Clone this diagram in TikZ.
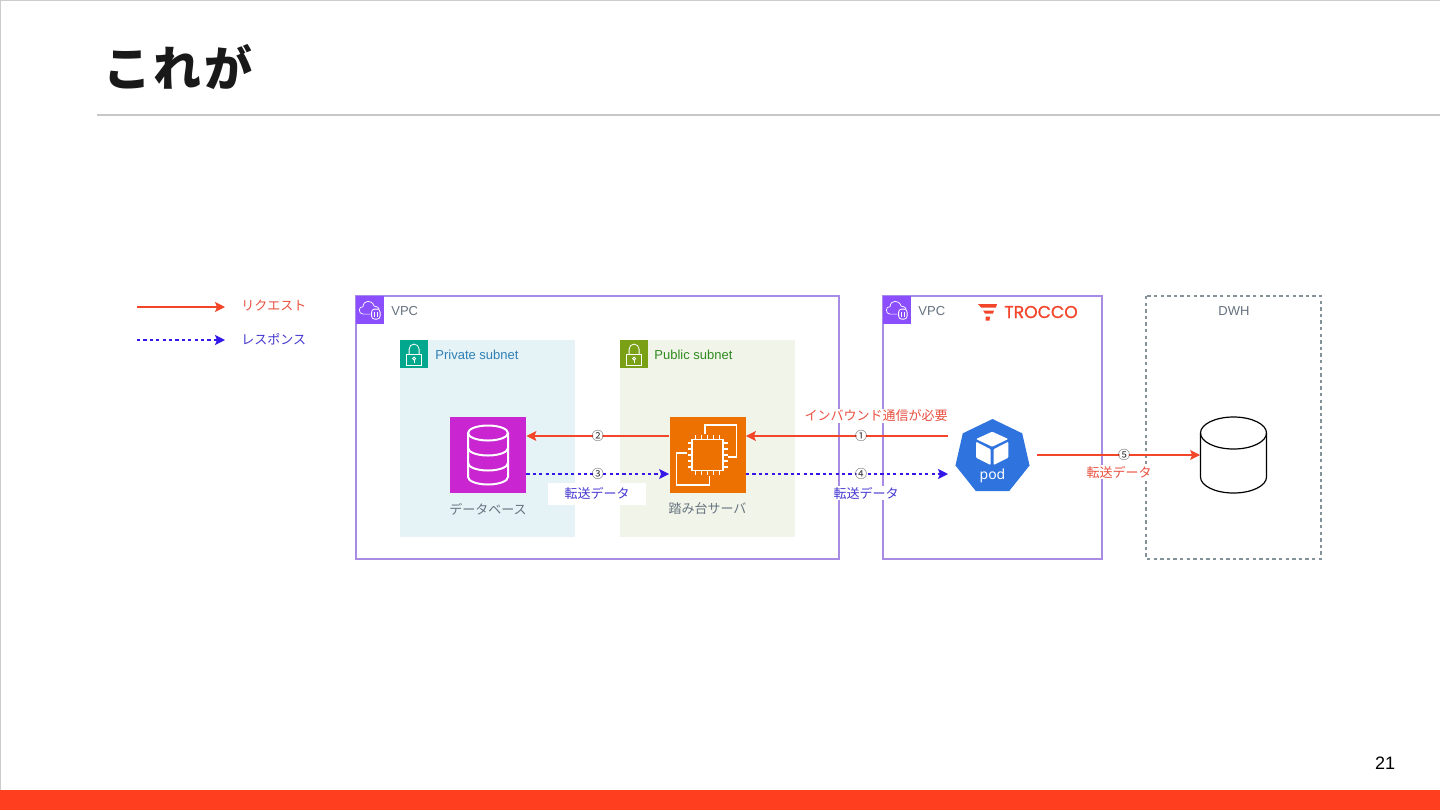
\documentclass[tikz,border=0pt]{standalone}
\usepackage{fontspec}
\setmainfont{Liberation Sans}
\newfontfamily\cjk{Noto Sans CJK JP}
\newfontfamily\titlefont[LetterSpace=5.5]{Noto Sans CJK JP}
\newfontfamily\podfont{Noto Sans}
\newfontfamily\trfont[FakeBold=1.2]{Poppins}
\usetikzlibrary{arrows.meta,shapes.geometric}

\definecolor{vpcline}{HTML}{A88BE3}
\definecolor{vpcfill}{HTML}{8C4FFF}
\definecolor{privfill}{HTML}{E5F3F6}
\definecolor{pubfill}{HTML}{F1F5E9}
\definecolor{privicon}{HTML}{01A88D}
\definecolor{pubicon}{HTML}{7AA116}
\definecolor{privtext}{HTML}{2F7FB5}
\definecolor{pubtext}{HTML}{2F8A1E}
\definecolor{dbfill}{HTML}{C925D1}
\definecolor{ecfill}{HTML}{ED7100}
\definecolor{podfill}{HTML}{2F74DE}
\definecolor{reqred}{HTML}{F2452A}
\definecolor{reqtext}{HTML}{E8503F}
\definecolor{resblue}{HTML}{3418E8}
\definecolor{restext}{HTML}{4337D0}
\definecolor{graytext}{HTML}{667280}
\definecolor{dwhline}{HTML}{84929A}
\definecolor{barred}{HTML}{FF3D1F}

\tikzset{
  jptext/.style={font=\cjk\fontsize{6.5}{8}\selectfont,inner sep=0.5pt},
  entext/.style={font=\fontsize{6.5}{8}\selectfont,inner sep=0pt},
  reqline/.style={draw=reqred,line width=0.55pt,-{Stealth[length=5pt,width=5pt,inset=1pt]}},
  resline/.style={draw=resblue,line width=0.55pt,dash pattern=on 1.6pt off 1.6pt,-{Stealth[length=5pt,width=5pt,inset=1pt]}},
  numtag/.style={circle,fill=white,inner sep=-1.2pt,text=black!80,font=\cjk\fontsize{6}{7}\selectfont},
  iconbox/.style={draw=none,minimum size=38pt,inner sep=0pt},
  tagbox/.style={draw=none,minimum size=13.7pt,inner sep=0pt},
  vpcframe/.style={draw=vpcline,line width=1pt},
  lockpic/.pic={
    \draw[white,line width=0.4pt] (-7.5,0) rectangle (7.5,11);
    \draw[white,line width=0.4pt] (-5,0) -- (-5,-5) arc (180:360:5) -- (5,0);
    \draw[white,line width=0.4pt] (0,4.5) circle (1.5);
    \draw[white,line width=0.4pt] (0,6) -- (0,8.5);
  },
  vpcpic/.pic={
    \draw[white,line width=0.35pt,line cap=round] (0,4) -- (-7,4) .. controls (-12,4) and (-12,-4) .. (-7,-3.5) .. controls (-7,-10) and (2,-11) .. (4,-4) .. controls (6,-4) and (8,-3) .. (9,-1.5);
    \draw[white,line width=0.4pt,rounded corners=1.5pt] (1.5,-1) rectangle (10,9);
    \draw[white,line width=0.35pt] (4.5,2) -- (4.5,7) (7,2) -- (7,7);
  }
}

\begin{document}
\begin{tikzpicture}[x=0.5pt,y=-0.5pt]
\useasboundingbox (0,0) rectangle (1440,810);

% slide frame
\fill[white] (0,0) rectangle (1440,810);
\draw[black!20,line width=0.8pt] (0.5,810) -- (0.5,0.5) -- (1440,0.5);
\fill[barred] (0,790) rectangle (1440,810);
\draw[black!22,line width=0.8pt] (97,115) -- (1440,115);
\node[anchor=west,inner sep=0pt,text=black!90,font=\titlefont\bfseries\fontsize{24}{29}\selectfont] (title) at (103,67) {これが};
\node[inner sep=0pt,font=\fontsize{9}{11}\selectfont] (pageno) at (1385,763) {21};

% legend
\coordinate (legreqa) at (137,307);
\coordinate (legreqb) at (225,307);
\coordinate (legresa) at (137,340);
\coordinate (legresb) at (225,340);
\draw[reqline] (legreqa) -- (legreqb);
\draw[resline] (legresa) -- (legresb);
\node[jptext,anchor=west,text=reqtext] (legreq) at (240,306) {リクエスト};
\node[jptext,anchor=west,text=restext] (legres) at (240,339) {レスポンス};

% groups
\draw[vpcframe] (356,296) rectangle (839,559);
\draw[vpcframe] (883,296) rectangle (1102,559);
\draw[draw=dwhline,line width=0.55pt,dash pattern=on 1.7pt off 1.6pt] (1146,296) rectangle (1321,559);
\fill[privfill] (400,340) rectangle (575,537);
\fill[pubfill] (620,340) rectangle (795,537);

% group tags
\node[tagbox,fill=vpcfill,anchor=north west] (vpcatag) at (356,296) {};
\node[tagbox,fill=vpcfill,anchor=north west] (vpcbtag) at (883,296) {};
\node[tagbox,fill=privicon,anchor=north west] (privtag) at (400,340) {};
\node[tagbox,fill=pubicon,anchor=north west] (pubtag) at (620,340) {};
\pic at (vpcatag.center) {vpcpic};
\pic at (vpcbtag.center) {vpcpic};
\pic at (privtag.center) {lockpic};
\pic at (pubtag.center) {lockpic};
\node[entext,anchor=west,text=graytext] (vpcalabel) at (391,311) {VPC};
\node[entext,anchor=west,text=graytext] (vpcblabel) at (918,311) {VPC};
\node[entext,anchor=west,text=privtext] (privlabel) at (435,355) {Private subnet};
\node[entext,anchor=west,text=pubtext] (publabel) at (654,355) {Public subnet};
\node[entext,text=graytext] (dwhlabel) at (1234,311) {DWH};

% trocco logo
\fill[reqred] (978,304) -- (997,304) -- (996,307.5) -- (981,307.5) -- cycle;
\fill[reqred] (983,310.5) -- (994,310.5) -- (993,313.5) -- (985,313.5) -- cycle;
\fill[reqred] (985.5,316.5) -- (990,316.5) -- (989.5,320.5) -- (985.5,320.5) -- cycle;
\node[inner sep=0pt,anchor=west,text=reqred,font=\trfont\fontsize{8.6}{10}\selectfont] (trocco) at (1004,312) {TROCCO};

% database
\node[iconbox,fill=dbfill] (db) at (488,455) {};
\node[jptext,text=graytext] (dblabel) at (488,509) {データベース};
\begin{scope}[shift={(db.center)},white,line width=1pt]
\draw (0,-22) ellipse (20 and 7.5);
\draw (-20,-22) -- (-20,22) arc (180:0:20 and 7.5) -- (20,-22);
\draw (-20,-7) arc (180:0:20 and 7.5);
\draw (-20,8) arc (180:0:20 and 7.5);
\end{scope}

% bastion server
\node[iconbox,fill=ecfill] (bastion) at (707.5,455) {};
\node[jptext,text=graytext] (bastionlabel) at (707.5,509) {踏み台サーバ};
\begin{scope}[shift={(bastion.center)},white,line width=0.9pt]
\draw (-15.5,-15.5) rectangle (15.5,15.5);
\draw (-2.5,-21) -- (-2.5,-30) -- (29,-30) -- (29,2) -- (20,2);
\draw (-21,-2) -- (-31,-2) -- (-31,30) -- (2,30) -- (2,21);
\foreach \p in {-12,-6,0,6,12} {
  \draw (\p,-15.5) -- (\p,-20);
  \draw (\p,15.5) -- (\p,20);
  \draw (-15.5,\p) -- (-20,\p);
  \draw (15.5,\p) -- (20,\p);
}
\end{scope}

% pod
\node[regular polygon,regular polygon sides=7,minimum size=38pt,inner sep=0pt,fill=podfill] (pod) at (992.5,457) {};
\fill[white,rounded corners=0.5pt] (992.2,431.7) -- (1008.3,439) -- (992.2,446.7) -- (976,439) -- cycle;
\fill[white,rounded corners=0.5pt] (976,441.7) -- (990.7,449.3) -- (990.7,465) -- (976,457.7) -- cycle;
\fill[white,rounded corners=0.5pt] (1008.3,441.7) -- (993.5,449.3) -- (993.5,465) -- (1008.3,457.7) -- cycle;
\node[inner sep=0pt,text=white,font=\podfont\fontsize{7}{8}\selectfont] (podlabel) at (992.5,476) {pod};

% warehouse
\node[minimum width=33pt,minimum height=38pt,inner sep=0pt] (dwhdb) at (1233.5,455) {};
\begin{scope}[shift={(dwhdb.center)},line width=0.6pt]
\draw (0,-22) ellipse (33 and 16);
\draw (-33,-22) -- (-33,22) arc (180:0:33 and 16) -- (33,-22);
\end{scope}

% connectors
\coordinate (podreq) at (948,436);
\coordinate (podres) at (948,474);
\coordinate (podout) at (1037,455);
\draw[reqline] (podreq) -- (bastion.east |- podreq) node[numtag,pos=0.43] (numa) {①};
\draw[reqline] (bastion.west |- podreq) -- (db.east |- podreq) node[numtag,midway] (numb) {②};
\draw[resline] (db.east |- podres) -- (bastion.west |- podres) node[numtag,midway] (numc) {③};
\draw[resline] (bastion.east |- podres) -- (podres) node[numtag,pos=0.57] (numd) {④};
\draw[reqline] (podout) -- (dwhdb.west |- podout) node[numtag,pos=0.534] (nume) {⑤};

% connector labels
\node[fill=white,minimum width=49pt,minimum height=11pt,inner sep=0pt] (datalabelbg) at (597,494) {};
\node[jptext,text=restext] (datalabela) at (597,493) {転送データ};
\node[jptext,fill=white,text=restext] (datalabelb) at (866,493) {転送データ};
\node[jptext,fill=white,text=reqtext] (inboundlabel) at (876,416) {インバウンド通信が必要};
\node[jptext,fill=white,text=reqtext] (datalabelc) at (1119,472) {転送データ};
\end{tikzpicture}
\end{document}
